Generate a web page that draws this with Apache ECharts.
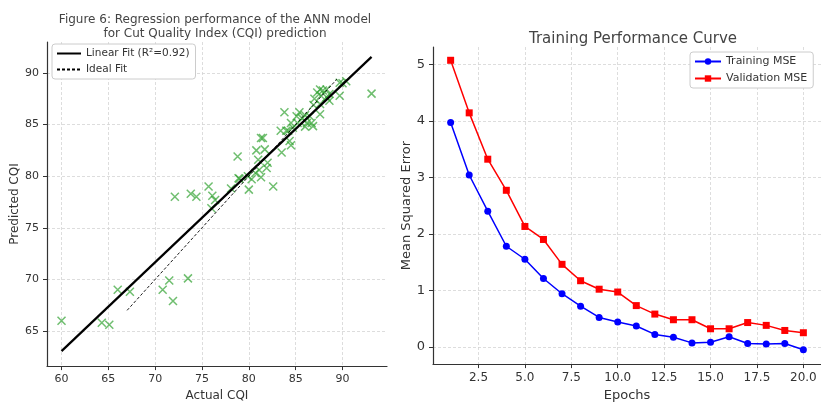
<!DOCTYPE html>
<html>
<head>
<meta charset="utf-8">
<script src="https://cdn.jsdelivr.net/npm/echarts@6/dist/echarts.min.js"></script>
<style>
  html, body { margin: 0; padding: 0; background: #fff; }
  #chart { width: 821px; height: 407px; }
</style>
</head>
<body>
<div id="chart"></div>
<script>
// left panel: actual vs predicted CQI
const cqiPoints = [
  [60.0, 66.0], [64.3, 65.8], [65.1, 65.6], [66.0, 69.0], [67.3, 68.8],
  [70.8, 69.0], [71.5, 69.9], [71.9, 67.9], [73.5, 70.1],
  [72.1, 78.0], [73.8, 78.3], [74.4, 78.0], [75.7, 79.0], [76.1, 78.1],
  [76.4, 77.7], [76.0, 76.9], [78.1, 78.8], [78.9, 79.8], [78.8, 81.9],
  [79.0, 79.75], [79.9, 80.0], [80.3, 79.7], [80.0, 78.7], [80.7, 80.3],
  [81.3, 79.9], [81.1, 80.6], [81.9, 80.8], [82.0, 81.3], [81.0, 81.6],
  [80.8, 82.5], [81.7, 82.6], [81.3, 83.7], [81.5, 83.7], [82.6, 79.0],
  [83.5, 82.3], [83.4, 84.4], [84.0, 84.4], [84.35, 83.4], [84.5, 83.0],
  [84.2, 84.4], [84.7, 84.7], [84.5, 85.15], [85.2, 85.15], [86.2, 85.15],
  [86.7, 85.15], [86.85, 84.85], [86.0, 84.8], [85.1, 85.8], [85.4, 86.2],
  [86.0, 85.9], [85.7, 85.6], [86.5, 85.8], [87.6, 86.0], [83.8, 86.2],
  [86.9, 86.9], [87.6, 87.0], [87.0, 87.5], [87.7, 87.8], [88.3, 87.65],
  [88.6, 87.3], [87.3, 88.1], [87.6, 88.4], [87.9, 88.3], [88.3, 88.4],
  [88.6, 87.97], [89.7, 87.8], [89.7, 89.06], [90.4, 89.2], [90.0, 89.0],
  [93.1, 88.0]
];
const fitLine = [[60.0, 63.05], [93.1, 91.56]];
const idealLine = [[67.0, 67.0], [89.4, 89.4]];
const cqiXTicks = [60, 65, 70, 75, 80, 85, 90];
const cqiYTicks = [65, 70, 75, 80, 85, 90];

// right panel: training curve
const epochs = [1, 2, 3, 4, 5, 6, 7, 8, 9, 10, 11, 12, 13, 14, 15, 16, 17, 18, 19, 20];
const trainMse = [3.97, 3.04, 2.40, 1.78, 1.55, 1.21, 0.94, 0.72, 0.52, 0.44,
  0.37, 0.22, 0.17, 0.07, 0.08, 0.18, 0.06, 0.05, 0.06, -0.05];
const valMse = [5.07, 4.14, 3.32, 2.77, 2.13, 1.90, 1.46, 1.17, 1.02, 0.97,
  0.73, 0.58, 0.48, 0.48, 0.32, 0.32, 0.43, 0.38, 0.29, 0.25];
const epochTicks = [2.5, 5, 7.5, 10, 12.5, 15, 17.5, 20];
const mseTicks = [0, 1, 2, 3, 4, 5];

const font = 'DejaVu Sans';
const txt = '#333';
const gridLine = { show: true, lineStyle: { color: '#d4d4d4', type: [3, 2], width: 0.8 } };
const spine = { show: true, onZero: false, lineStyle: { color: '#333', width: 1.2 } };

function valAxis(idx, min, max, ticks, name, opts) {
  return Object.assign({
    type: 'value', gridIndex: idx, min: min, max: max,
    name: name, nameLocation: 'middle',
    nameTextStyle: { fontFamily: font, color: txt, fontSize: 12 },
    axisLine: spine,
    axisTick: { show: true, customValues: ticks, length: 4, lineStyle: { color: '#333' } },
    axisLabel: { customValues: ticks, fontFamily: font, color: txt, fontSize: 11 },
    splitLine: gridLine
  }, opts || {});
}

const xMark = 'path://M0,0L10,10M10,0L0,10';
// legend entries for plain lines: hide the marker, keep the line
const noMarker = { opacity: 0 };

const chart = echarts.init(document.getElementById('chart'));
chart.setOption({
  animation: false,
  backgroundColor: '#fff',
  title: [
    {
      text: 'Figure 6: Regression performance of the ANN model\nfor Cut Quality Index (CQI) prediction',
      left: 210, top: 8, textAlign: 'center',
      textStyle: { fontFamily: font, fontWeight: 'normal', fontSize: 12, color: '#444', lineHeight: 14 }
    },
    {
      text: 'Training Performance Curve',
      left: 628, top: 27, textAlign: 'center',
      textStyle: { fontFamily: font, fontWeight: 'normal', fontSize: 15, color: '#444' }
    }
  ],
  legend: [
    {
      data: [
        { name: 'Linear Fit (R²=0.92)', itemStyle: noMarker },
        { name: 'Ideal Fit', itemStyle: noMarker }
      ],
      orient: 'vertical', left: 52, top: 44,
      itemWidth: 24, itemHeight: 8, itemGap: 5,
      padding: [4, 6, 4, 4],
      backgroundColor: '#fff', borderColor: '#ccc', borderWidth: 1, borderRadius: 3,
      textStyle: { fontFamily: font, fontSize: 10.5, color: txt }
    },
    {
      data: ['Training MSE', 'Validation MSE'],
      orient: 'vertical', left: 690, top: 52,
      itemWidth: 26, itemHeight: 8, itemGap: 6,
      padding: [4, 6, 4, 4],
      backgroundColor: '#fff', borderColor: '#ccc', borderWidth: 1, borderRadius: 3,
      textStyle: { fontFamily: font, fontSize: 11, color: txt }
    }
  ],
  grid: [
    { left: 47, top: 42, width: 340, height: 334 },
    { left: 433, top: 47, width: 396, height: 323 }
  ],
  xAxis: [
    valAxis(0, 58.45, 94.75, cqiXTicks, 'Actual CQI', { nameGap: 18 }),
    valAxis(1, 0.05, 20.95, epochTicks, 'Epochs', {
      nameGap: 22,
      nameTextStyle: { fontFamily: font, color: txt, fontSize: 13 },
      axisLabel: { customValues: epochTicks, fontFamily: font, color: txt, fontSize: 12,
        formatter: v => v.toFixed(1) }
    })
  ],
  yAxis: [
    valAxis(0, 61.6, 93.0, cqiYTicks, 'Predicted CQI', { nameGap: 22 }),
    valAxis(1, -0.305, 5.305, mseTicks, 'Mean Squared Error', {
      nameGap: 20,
      nameTextStyle: { fontFamily: font, color: txt, fontSize: 13 },
      axisLabel: { customValues: mseTicks, fontFamily: font, color: txt, fontSize: 13 }
    })
  ],
  series: [
    {
      type: 'scatter', xAxisIndex: 0, yAxisIndex: 0,
      data: cqiPoints, symbol: xMark, symbolSize: 8,
      itemStyle: { color: 'rgba(0,0,0,0)', borderColor: 'rgba(44,160,44,0.85)', borderWidth: 1.5 },
      z: 2
    },
    {
      name: 'Linear Fit (R²=0.92)', type: 'line', xAxisIndex: 0, yAxisIndex: 0,
      data: fitLine, showSymbol: false, symbol: 'none',
      lineStyle: { color: '#000', width: 2.2 }, itemStyle: { color: '#000' }, z: 3
    },
    {
      name: 'Ideal Fit', type: 'line', xAxisIndex: 0, yAxisIndex: 0,
      data: idealLine, showSymbol: false, symbol: 'none',
      lineStyle: { color: '#000', width: 0.9, type: [3, 2] }, itemStyle: { color: '#000' }, z: 4
    },
    {
      name: 'Training MSE', type: 'line', xAxisIndex: 1, yAxisIndex: 1,
      data: epochs.map((e, i) => [e, trainMse[i]]),
      symbol: 'circle', symbolSize: 7,
      lineStyle: { color: '#0000ff', width: 1.5 }, itemStyle: { color: '#0000ff' }
    },
    {
      name: 'Validation MSE', type: 'line', xAxisIndex: 1, yAxisIndex: 1,
      data: epochs.map((e, i) => [e, valMse[i]]),
      symbol: 'rect', symbolSize: 7,
      lineStyle: { color: '#ff0000', width: 1.5 }, itemStyle: { color: '#ff0000' }
    }
  ]
});
</script>
</body>
</html>
